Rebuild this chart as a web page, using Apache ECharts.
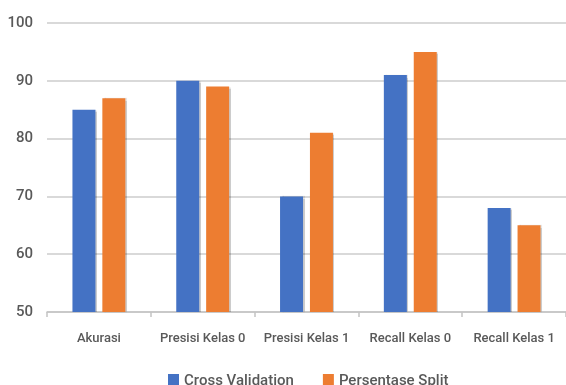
<!DOCTYPE html>
<html>
<head>
<meta charset="utf-8">
<script src="https://cdn.jsdelivr.net/npm/echarts@6/dist/echarts.min.js"></script>
<style>html,body{margin:0;padding:0;background:#fff}#c{width:566px;height:385px}</style>
</head>
<body>
<div id="c"></div>
<script>
const categories = ['Akurasi', 'Presisi Kelas 0', 'Presisi Kelas 1', 'Recall Kelas 0', 'Recall Kelas 1'];
const crossValidation = [85, 90, 70, 91, 68];
const persentaseSplit = [87, 89, 81, 95, 65];
const seriesNames = ['Cross Validation', 'Persentase Split'];

const font = "Roboto, 'Liberation Sans', Arial, sans-serif";
const chart = echarts.init(document.getElementById('c'), null, {renderer: 'canvas'});
chart.setOption({
  animation: false,
  backgroundColor: '#ffffff',
  grid: {left: 47, right: 0, top: 23, bottom: 73},
  legend: {
    data: seriesNames,
    left: 163,
    top: 369,
    itemWidth: 11,
    itemHeight: 15,
    itemGap: 29,
    icon: 'rect',
    textStyle: {fontFamily: font, fontSize: 15, color: '#595959', fontWeight: 500}
  },
  xAxis: {
    type: 'category',
    data: categories,
    axisLine: {lineStyle: {color: '#c4c4c4', width: 1.5}},
    axisTick: {show: true, length: 5, lineStyle: {color: '#c4c4c4', width: 1.5}},
    axisLabel: {interval: 0, fontFamily: font, fontSize: 13, color: '#595959', fontWeight: 500, margin: 20}
  },
  yAxis: {
    type: 'value',
    min: 50,
    max: 100,
    interval: 10,
    axisLine: {show: false},
    axisTick: {show: false},
    splitLine: {lineStyle: {color: '#cccccc', width: 1.5}},
    axisLabel: {fontFamily: font, fontSize: 15, color: '#595959', fontWeight: 500, margin: 14}
  },
  series: [
    {name: seriesNames[0], type: 'bar', data: crossValidation, barWidth: 23, barGap: '30%',
     itemStyle: {color: '#4472C4', shadowColor: 'rgba(0,0,0,0.2)', shadowOffsetX: 1.5, shadowBlur: 1}},
    {name: seriesNames[1], type: 'bar', data: persentaseSplit, barWidth: 23,
     itemStyle: {color: '#ED7D31', shadowColor: 'rgba(0,0,0,0.2)', shadowOffsetX: 1.5, shadowBlur: 1}}
  ]
});
</script>
</body>
</html>
